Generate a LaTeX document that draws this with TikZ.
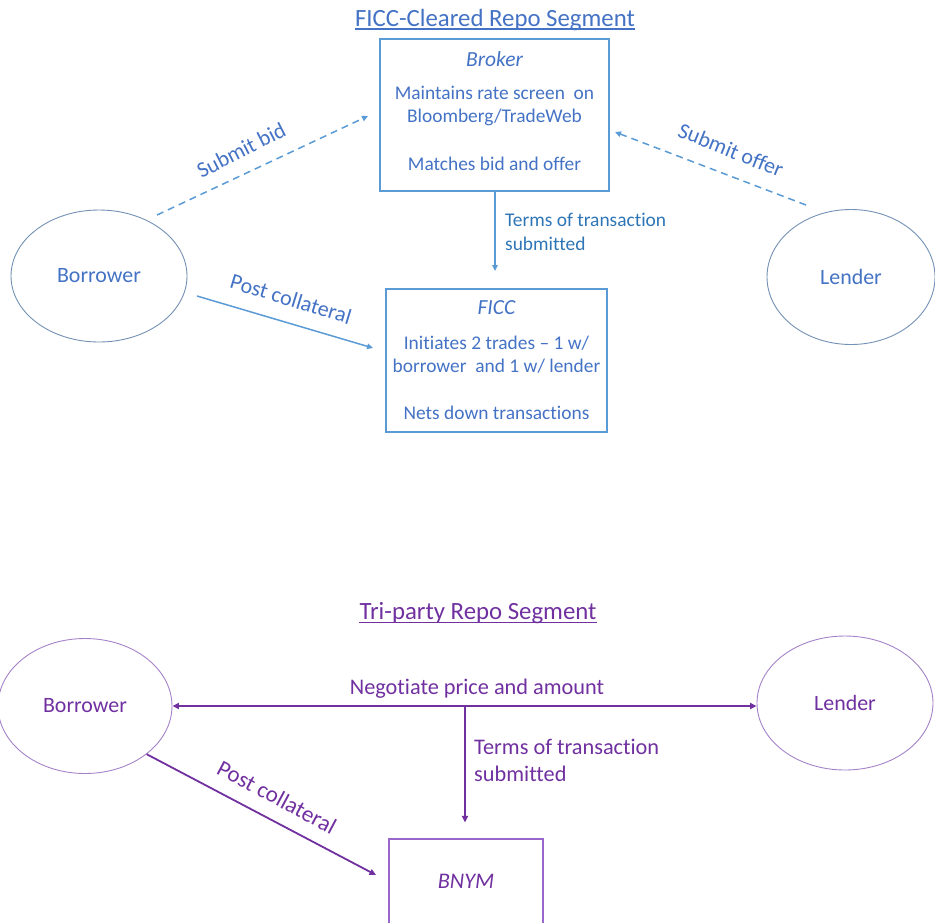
\documentclass[tikz,border=0pt]{standalone}
\usepackage{fontspec}
\setmainfont{Carlito}[Ligatures=NoCommon]
\usetikzlibrary{arrows.meta,shapes.geometric}
\definecolor{tblue}{HTML}{4472C4}
\definecolor{tline}{HTML}{5B9BD5}
\definecolor{tterm}{HTML}{2E75B6}
\definecolor{tell}{HTML}{7391B5}
\definecolor{pur}{HTML}{7030A0}
\definecolor{pell}{HTML}{A582C8}
\definecolor{pbox}{HTML}{9966CC}
\begin{document}
\begin{tikzpicture}[x=1pt,y=-1pt,
  titletext/.style={inner sep=0pt,anchor=base,font=\fontsize{24.8}{28}\selectfont},
  tbox/.style={draw=tline,line width=1.2pt,align=center,text=tblue,font=\fontsize{19.4}{23}\selectfont},
  tellipse/.style={ellipse,draw=tell,line width=0.9pt,inner sep=0pt,text=tblue,font=\fontsize{21.9}{26}\selectfont},
  pellipse/.style={ellipse,draw=pell,line width=0.9pt,inner sep=0pt,text=pur,font=\fontsize{21.9}{26}\selectfont},
  tlabel/.style={text=tblue,font=\fontsize{22}{26}\selectfont,inner sep=0pt},
  plabel/.style={text=pur,font=\fontsize{22.3}{27}\selectfont,inner sep=0pt},
  tarrow/.style={draw=tline,line width=1.5pt,-{Triangle[length=6pt,width=5.5pt]}},
  tdash/.style={tarrow,dash pattern=on 7pt off 5pt},
  parrow/.style={draw=pur,line width=1.8pt,-{Triangle[length=6.5pt,width=6pt]}},
]
\useasboundingbox (0,0) rectangle (935,922);

% ---------- FICC-Cleared ----------
\node[titletext,text=tblue] (t1) at (495,26) {FICC-Cleared Repo Segment};
\draw[tblue,line width=1.2pt] ([yshift=-3pt]t1.base west) -- ([yshift=-3pt]t1.base east);

\node[tbox,minimum width=229pt,minimum height=152pt] (broker) at (494.5,115)
  {{\fontsize{21.5}{23}\selectfont\itshape Broker}\\[10pt]Maintains rate screen\ \ on\\Bloomberg/TradeWeb\\[25pt]Matches bid and offer\rule[-7pt]{0pt}{7pt}};
\node[tbox,minimum width=221pt,minimum height=143pt] (ficc) at (496.5,360.5)
  {{\fontsize{21.5}{23}\selectfont\itshape FICC}\\[12pt]Initiates 2 trades -- 1 w/\\borrower\ \ and 1 w/ lender\\[24pt]Nets down transactions};

\node[tellipse,minimum width=176pt,minimum height=132pt] (bA) at (99,276) {Borrower};
\node[tellipse,minimum width=168pt,minimum height=135pt] (lA) at (851,277) {Lender};

\coordinate (sb0) at (157,215);
\coordinate (sb1) at (368,116);
\coordinate (so0) at (806,205);
\coordinate (so1) at (615,132);
\coordinate (tm1) at (495,271);
\coordinate (pc0) at (197,296);
\coordinate (pc1) at (373,348);

\draw[tdash] (sb0) -- (sb1);
\draw[tdash] (so0) -- (so1);
\draw[tarrow] (broker.south -| tm1) -- (tm1);
\draw[tarrow] (pc0) -- (pc1);

\node[tlabel,rotate=27] (lsb) at (241,150) {Submit bid};
\node[tlabel,rotate=-22] (lso) at (731,150) {Submit offer};
\node[tlabel,rotate=-17] (lpc) at (291,299) {Post collateral};
\node[text=tterm,font=\fontsize{19.4}{24}\selectfont,inner sep=0pt,anchor=west,align=left] (ltm) at (505,232)
  {Terms of transaction\\submitted};

% ---------- Tri-party ----------
\node[titletext,text=pur] (t2) at (478,619.5) {Tri-party Repo Segment};
\draw[pur,line width=1.2pt] ([yshift=-3pt]t2.base west) -- ([yshift=-3pt]t2.base east);

\node[pellipse,minimum width=174pt,minimum height=135pt] (bB) at (85,706) {Borrower};
\node[pellipse,minimum width=176pt,minimum height=134pt] (lB) at (845,703) {Lender};
\node[draw=pbox,line width=1.2pt,minimum width=154pt,minimum height=85pt,text=pur,
  font=\fontsize{22.3}{26}\selectfont] (bnym) at (466,881.5) {\textit{BNYM}};

\draw[parrow,{Triangle[length=6.5pt,width=6pt]}-{Triangle[length=6.5pt,width=6pt]}]
  (bB.east) -- (bB.east -| lB.west);
\coordinate (ng) at (465,706);
\draw[parrow,shorten >=16pt] (ng) -- (ng |- bnym.north);
\draw[parrow,shorten >=14pt] (bB.-38) -- (bnym.west);

\node[plabel] (lng) at (477,689) {Negotiate price and amount};
\node[plabel,anchor=west,align=left] (ltm2) at (474,760) {Terms of transaction\\submitted};
\node[plabel,rotate=-28,font=\fontsize{23}{27}\selectfont] (lpc2) at (277,797) {Post collateral};
\end{tikzpicture}
\end{document}
